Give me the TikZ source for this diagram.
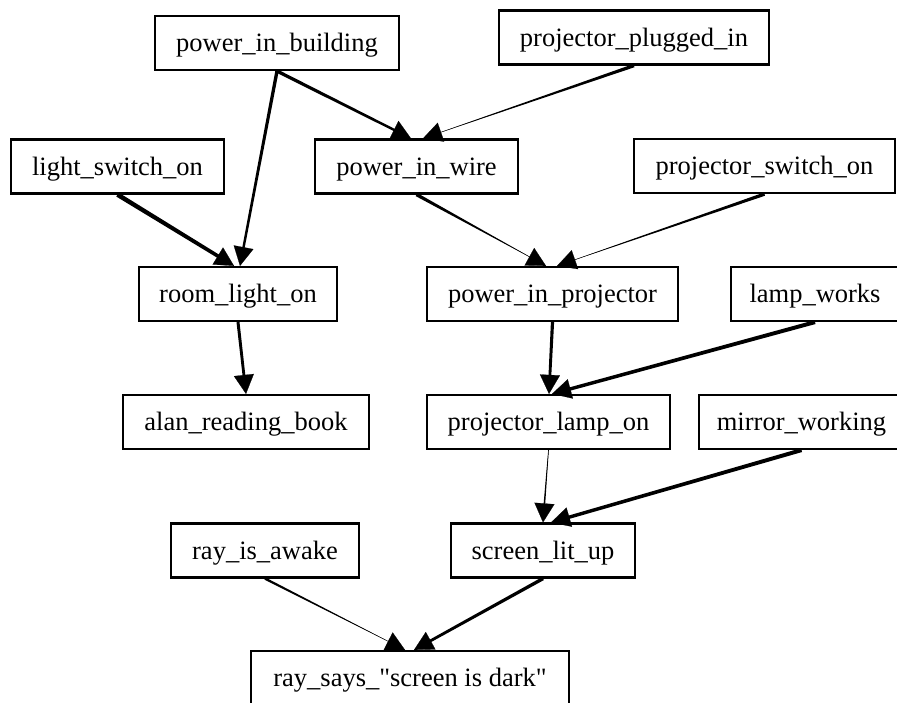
\documentclass[tikz,border=0pt]{standalone}
\usepackage{fontspec}
\setmainfont{Liberation Serif}
\usetikzlibrary{arrows.meta,calc}

% tapered connector: tail, head, half width at tail, half width at head
\newcommand{\taperedge}[4]{%
  \coordinate (base) at ($(#2)!9pt!(#1)$);
  \fill ($(#1)!#3!90:(#2)$) -- ($(base)!#4!-90:(#1)$)
     -- ($(base)!#4!90:(#1)$) -- ($(#1)!#3!-90:(#2)$) -- cycle;
  \draw[tip] (#1) -- (#2);
}

\begin{document}
\begin{tikzpicture}[
  x=0.5pt, y=-0.5pt,
  font=\fontsize{13.25pt}{15pt}\selectfont,
  box/.style={
    draw, line width=1.1pt, inner sep=0pt, minimum height=27pt,
    minimum width=#1, text height=8.5pt, text depth=0pt,
  },
  tip/.style={-{Triangle[length=9.5pt, width=10pt]}, line width=0.1pt},
]
\clip (0, 0) rectangle (897, 702);

% ---- Top row: power sources --------------------------------------------
\node[box=122pt]   (building) at (277, 43)    {power\_in\_building};
\node[box=135pt]   (plugged)  at (634, 37.5)  {projector\_plugged\_in};

% ---- Switches and the wire ----------------------------------------------
\node[box=106.5pt] (lightsw)  at (117.5, 166.5) {light\_switch\_on};
\node[box=101.5pt] (wire)     at (416.5, 166.5) {power\_in\_wire};
\node[box=130.5pt] (projsw)   at (764.5, 166)   {projector\_switch\_on};

% ---- Light and projector power ------------------------------------------
\node[box=99pt]    (roomlight) at (238, 294)   {room\_light\_on};
\node[box=125.5pt] (projpower) at (552.5, 294) {power\_in\_projector};
\node[box=84pt]    (lamp)      at (815, 294)   {lamp\_works};

% ---- Reading and the lamp -----------------------------------------------
\node[box=123pt]   (reading) at (246, 422)   {alan\_reading\_book};
\node[box=121.5pt] (lampon)  at (548.5, 422) {projector\_lamp\_on};
\node[box=102.5pt] (mirror)  at (801.5, 422) {mirror\_working};

% ---- Screen and Ray -----------------------------------------------------
\node[box=94pt]  (awake)  at (265, 550.5) {ray\_is\_awake};
\node[box=92pt]  (screen) at (543, 550.5) {screen\_lit\_up};
\node[box=159pt] (says)   at (410, 678)
  {ray\_says\_\textquotedbl screen is dark\textquotedbl};

% ---- Arrow heads sit side by side on the target tops --------------------
\coordinate (roomlight-a) at ($(roomlight.north)+(2, 0)$);
\coordinate (roomlight-b) at ($(roomlight.north)+(-4, 0)$);
\coordinate (wire-a)      at ($(wire.north)+(-5.5, 0)$);
\coordinate (wire-b)      at ($(wire.north)+(6.5, 0)$);
\coordinate (projpower-a) at ($(projpower.north)+(-6.5, 0)$);
\coordinate (projpower-b) at ($(projpower.north)+(4.5, 0)$);
\coordinate (lampon-a)    at ($(lampon.north)+(0.5, 0)$);
\coordinate (lampon-b)    at ($(lampon.north)+(3.5, 0)$);
\coordinate (screen-a)    at ($(screen.north)+(0, 0)$);
\coordinate (screen-b)    at ($(screen.north)+(8, 0)$);
\coordinate (says-a)      at ($(says.north)+(-5, 0)$);
\coordinate (says-b)      at ($(says.north)+(4, 0)$);

% ---- Connectors ---------------------------------------------------------
\taperedge{building.south}{roomlight-a}{0.85pt}{0.6pt}
\taperedge{building.south}{wire-a}{0.85pt}{0.6pt}
\taperedge{plugged.south}{wire-b}{0.85pt}{0.08pt}
\taperedge{lightsw.south}{roomlight-b}{1.15pt}{0.9pt}
\taperedge{wire.south}{projpower-a}{0.85pt}{0.1pt}
\taperedge{projsw.south}{projpower-b}{0.85pt}{0.08pt}
\taperedge{roomlight.south}{reading.north}{0.75pt}{0.7pt}
\taperedge{projpower.south}{lampon-a}{0.8pt}{0.7pt}
\taperedge{lamp.south}{lampon-b}{1pt}{0.85pt}
\taperedge{lampon.south}{screen-a}{0.15pt}{0.4pt}
\taperedge{mirror.south}{screen-b}{1pt}{0.85pt}
\taperedge{awake.south}{says-a}{0.6pt}{0.08pt}
\taperedge{screen.south}{says-b}{0.85pt}{0.7pt}

\end{tikzpicture}
\end{document}
